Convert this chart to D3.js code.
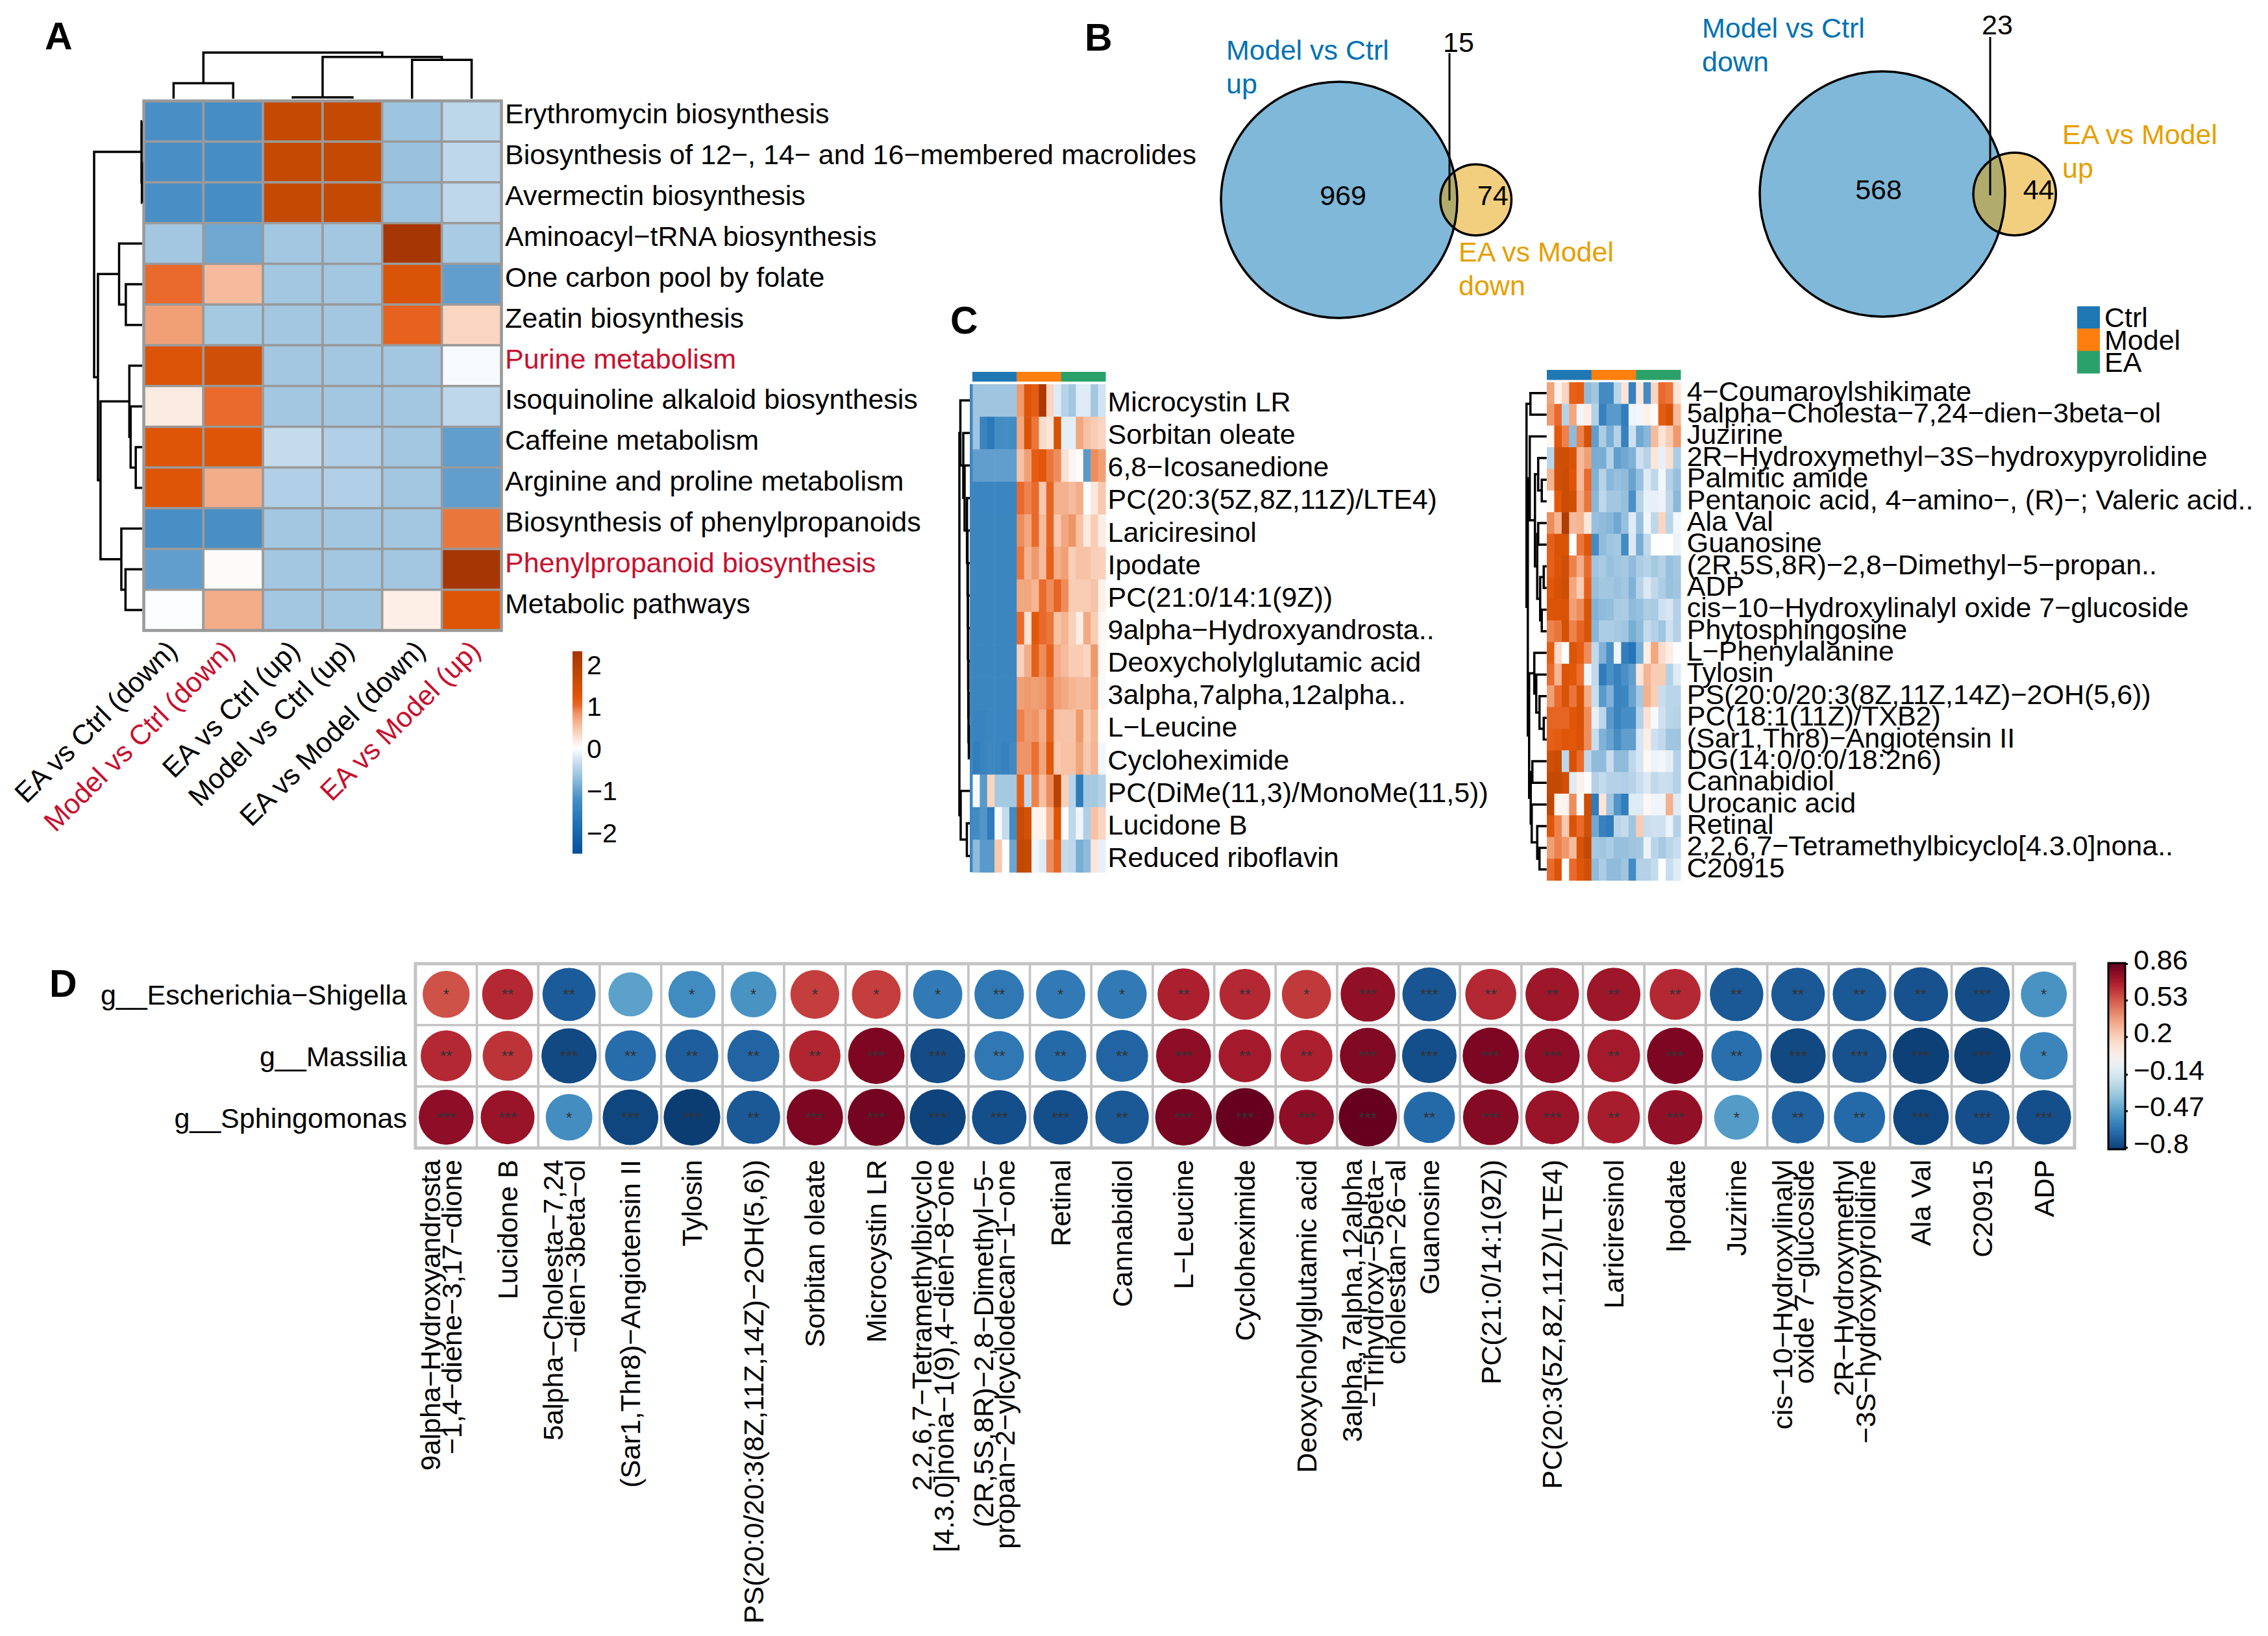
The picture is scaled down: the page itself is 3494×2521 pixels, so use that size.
<!DOCTYPE html>
<html><head><meta charset="utf-8">
<script src="https://cdn.jsdelivr.net/npm/d3@7"></script>
<style>html,body{margin:0;padding:0;background:#fff}svg{display:block}text{font-family:"Liberation Sans",Arial,sans-serif}</style>
</head><body><svg id="c" width="3494" height="2521"></svg>
<script>
// ---------- DATA ----------
const pathways=["Erythromycin biosynthesis","Biosynthesis of 12−, 14− and 16−membered macrolides","Avermectin biosynthesis","Aminoacyl−tRNA biosynthesis","One carbon pool by folate","Zeatin biosynthesis","Purine metabolism","Isoquinoline alkaloid biosynthesis","Caffeine metabolism","Arginine and proline metabolism","Biosynthesis of phenylpropanoids","Phenylpropanoid biosynthesis","Metabolic pathways"];
const redPathways=["Purine metabolism","Phenylpropanoid biosynthesis"];
const comparisons=["EA vs Ctrl (down)","Model vs Ctrl (down)","EA vs Ctrl (up)","Model vs Ctrl (up)","EA vs Model (down)","EA vs Model (up)"];
const redComparisons=["Model vs Ctrl (down)","EA vs Model (up)"];
const heatA=[
[-1.22,-1.25,1.7,1.7,-.66,-.44],
[-1.22,-1.25,1.7,1.7,-.68,-.42],
[-1.22,-1.25,1.7,1.7,-.66,-.42],
[-.62,-.95,-.62,-.62,2.3,-.58],
[1.0,.55,-.62,-.62,1.35,-1.05],
[.75,-.6,-.62,-.62,1.08,.35],
[1.3,1.5,-.62,-.62,-.62,-.05],
[.17,1.0,-.62,-.62,-.62,-.42],
[1.27,1.27,-.38,-.52,-.62,-1.05],
[1.27,.65,-.52,-.52,-.62,-1.05],
[-1.22,-1.22,-.62,-.62,-.62,.95],
[-1.05,.03,-.62,-.62,-.62,2.3],
[-.02,.65,-.62,-.62,.14,1.27]];
const topMergesA=[[0,1,24.5],[2,3,2],[4,5,61.5],[-2,-3,66],[-1,-4,73]];
const leftMergesA=[[1,2,.4],[0,-1,1],[4,5,25.5],[3,-3,36],[8,9,10],[7,-5,18],[6,-6,20],[11,12,26],[10,-8,32.5],[-7,-9,65],[-4,-10,69],[-2,-11,75]];
const colourTicksA=[-2,-1,0,1,2];
const colLabelNudge=[8,5,13,5,23,16];

const groups=["Ctrl","Model","EA"];
const groupColours=["#1f77b4","#ff7f0e","#2aa169"];
const metabolitesL=["Microcystin LR","Sorbitan oleate","6,8−Icosanedione","PC(20:3(5Z,8Z,11Z)/LTE4)","Lariciresinol","Ipodate","PC(21:0/14:1(9Z))","9alpha−Hydroxyandrosta..","Deoxycholylglutamic acid","3alpha,7alpha,12alpha..","L−Leucine","Cycloheximide","PC(DiMe(11,3)/MonoMe(11,5))","Lucidone B","Reduced riboflavin"];
const heatCL=[
[-.65,-.65,-.65,-.65,-.65,-.65,.8,1.27,1.15,2.2,.35,-.2,-.48,-.62,-.2,-.2,-.62,-.28],
[-.65,-1.45,-1.65,-1.3,-1.25,-1.3,.7,1.35,.95,.3,.22,1.4,-.17,-.17,.7,.5,.42,.35],
[-1.05,-1.05,-1.05,-1.05,-1.05,-1.05,.5,.75,1.15,1.22,.95,.85,.25,.08,.03,-1.1,.85,.75],
[-1.42,-1.42,-1.42,-1.42,-1.42,-1.42,1.0,.9,1.0,.45,1.05,.62,.62,.55,.65,-.02,.2,.45],
[-1.4,-1.4,-1.4,-1.4,-1.4,-1.4,.85,.7,1.0,.55,1.05,.45,.7,.82,.5,.18,.42,.15],
[-1.4,-1.4,-1.4,-1.4,-1.4,-1.4,.95,.6,.8,.55,1.1,.65,.75,.4,.5,.5,.4,.38],
[-1.4,-1.4,-1.4,-1.4,-1.4,-1.4,.7,.7,.6,1.0,.85,1.05,.85,.42,.42,.42,.5,.12],
[-1.4,-1.4,-1.4,-1.4,-1.4,-1.4,1.0,.25,1.2,1.0,.95,.5,.6,.38,.15,.68,.42,.07],
[-1.4,-1.4,-1.4,-1.4,-1.4,-1.4,.38,.65,1.1,.85,1.08,.65,.55,.42,.42,.35,.8,.05],
[-1.4,-1.4,-1.4,-1.4,-1.4,-1.4,.75,.8,.75,.8,.95,.75,.68,.6,.55,.55,.7,-.05],
[-1.45,-1.45,-1.4,-1.42,-1.42,-1.42,.9,.8,.82,.65,1.05,.5,.48,.48,.8,.42,.58,0],
[-1.55,-1.45,-1.38,-1.42,-1.48,-1.35,.82,.82,.98,.72,1.2,.45,.5,.5,.72,.45,.6,-.08],
[-.05,-1.1,.35,-.6,-.6,-.6,1.1,-.4,.9,.52,.85,1.95,.4,-.45,-1.6,-.6,-.6,-.5],
[-1.3,-1.15,-1.6,-.05,-.38,-1.3,1.65,1.45,.1,.1,.6,1.3,.03,-.42,-.1,-.52,.5,.35],
[-.75,-1.1,-1.1,.45,0,-.98,1.75,1.7,-.1,-.2,.85,1.05,-.38,-.42,-.9,-.75,.22,-.15]];
const mergesCL=[[10,11,1.5],[9,-1,2],[8,-2,2.3],[7,-3,2.5],[6,-4,2.8],[5,-5,3],[4,-6,3.5],[3,-7,4.3],[2,-8,8],[1,-9,10],[0,-10,14.5],[13,14,4.5],[12,-12,14],[-11,-13,16]];

const metabolitesR=["4−Coumaroylshikimate","5alpha−Cholesta−7,24−dien−3beta−ol","Juzirine","2R−Hydroxymethyl−3S−hydroxypyrolidine","Palmitic amide","Pentanoic acid, 4−amino−, (R)−; Valeric acid..","Ala Val","Guanosine","(2R,5S,8R)−2,8−Dimethyl−5−propan..","ADP","cis−10−Hydroxylinalyl oxide 7−glucoside","Phytosphingosine","L−Phenylalanine","Tylosin","PS(20:0/20:3(8Z,11Z,14Z)−2OH(5,6))","PC(18:1(11Z)/TXB2)","(Sar1,Thr8)−Angiotensin II","DG(14:0/0:0/18:2n6)","Cannabidiol","Urocanic acid","Retinal","2,2,6,7−Tetramethylbicyclo[4.3.0]nona..","C20915"];
const heatCR=[
[.72,.1,.35,1.1,1.15,-.75,-.62,-1.3,-1.3,-.45,.22,-1.5,.2,-1.3,.35,1.0,.95,.22],
[.8,1.0,-.5,.7,-.08,.15,-.5,-1.5,-1.1,-1.1,-1.55,-.1,-.08,.12,.03,1.15,1.4,.55],
[.07,1.2,.9,-.75,.9,1.45,-1.05,-.55,-.9,-.5,-1.5,-.3,-.95,-.8,.55,.22,.42,.8],
[-.45,1.5,1.55,1.35,.55,.75,-.9,-.9,-.5,-1.05,-.95,-.85,-.3,-.48,.22,-.15,.25,-.55],
[.6,1.5,1.6,1.25,.55,1.0,-.85,-.48,-.8,-.7,-.75,-1.0,-.7,-.2,-.42,-.08,-.5,-.7],
[.06,1.2,1.6,1.5,.65,.95,-.8,-.42,-.62,-.62,-.7,-1.2,-.48,-.15,-.15,-.12,-.42,-.78],
[.85,.6,2.1,.55,.6,.2,-.7,-.75,-.8,-.95,-.7,-.2,-.7,-.1,-.42,.35,-.45,-.08],
[1.1,1.35,1.35,0,.95,1.25,-1.3,-.75,-.65,-.6,-1.3,-.22,-.9,-.4,0,-.02,0,-.12],
[1.1,1.32,1.5,.9,.65,1.0,-.65,-.58,-.7,-.65,-.6,-.75,-.55,-.48,-.6,-.5,-.7,-.62],
[1.2,1.4,1.55,.7,.42,1.1,-.7,-.62,-.62,-.68,-.62,-.85,-.48,-.22,-.4,-.55,-.68,-.65],
[1.3,1.3,1.35,.75,.85,1.35,-.85,-.75,-.72,-.58,-.55,-.75,-.7,-.55,-.58,-.3,-.25,-.5],
[.9,.95,1.45,.9,1.05,1.35,-.8,-.55,-.55,-.6,-.65,-.9,-.75,-.38,-.5,-.65,-.3,-.5],
[1.15,.3,-.02,1.3,1.15,.85,-.4,-.85,-1.2,-.1,-1.55,-1.75,-.9,.15,.7,.28,.15,-.02],
[1.0,.6,1.3,1.2,.98,-.1,-.4,-1.6,-1.2,-1.5,-1.2,-1.05,.22,.6,.42,.42,-.5,-.2],
[.75,1.0,1.35,.95,1.35,.65,-.35,-1.1,-.85,-1.45,-1.4,-1.0,-.6,.62,.4,-.35,-.45,-.45],
[1.05,1.05,1.05,1.25,1.35,.85,-.15,-.42,-1.1,-1.45,-1.25,-1.25,-.5,.25,-.05,-.3,-.45,-.48],
[1.1,1.15,1.25,1.2,1.35,.85,-.35,-.85,-1.0,-1.25,-1.05,-1.05,-.25,.15,-.3,-.4,-.65,-.65],
[1.5,1.6,-.42,1.4,1.0,-.42,-.75,-.75,-.35,-.75,-.75,-.42,-.25,.06,-.12,-.08,-.15,-.5],
[1.7,1.7,1.5,-.2,.12,-.03,-.5,-.38,-.5,-.5,-.52,-.48,-.35,-.22,-.4,-.32,-.35,-.5],
[1.8,.08,.1,.85,-.05,1.5,-1.6,.22,-.65,-1.15,-1.55,-.2,-.2,.06,-.1,-.1,.62,-.2],
[1.25,.9,.45,1.35,1.0,1.5,-.95,-1.5,-1.6,-.45,-.38,-.65,.42,-.35,-.3,-.3,-.12,-.5],
[.75,.9,.8,.55,1.4,1.75,-.6,-.65,-.55,-.7,-.7,-.65,-.62,-.12,-.45,-.6,-.45,-.35],
[1.0,1.3,.02,1.0,1.25,1.5,-.75,-.55,-.75,-.75,-.65,-1.3,-.5,-.5,-.38,0,-.35,-.2]];
const mergesCR=[[0,1,25],[4,5,7.5],[3,-2,13],[8,9,4.5],[10,11,7.5],[-4,-5,10],[6,7,13],[-7,-6,14.5],[-3,-8,18],[2,-9,26],[15,16,4.5],[14,-11,11],[13,-12,16],[12,-13,19],[21,22,11],[20,-15,14.5],[19,-16,23],[17,18,22],[-18,-17,24.5],[-14,-19,27],[-10,-20,29],[-1,-21,31]];

const genera=["g__Escherichia−Shigella","g__Massilia","g__Sphingomonas"];
const compounds=[["9alpha−Hydroxyandrosta","−1,4−diene−3,17−dione"],["Lucidone B"],["5alpha−Cholesta−7,24","−dien−3beta−ol"],["(Sar1,Thr8)−Angiotensin II"],["Tylosin"],["PS(20:0/20:3(8Z,11Z,14Z)−2OH(5,6))"],["Sorbitan oleate"],["Microcystin LR"],["2,2,6,7−Tetramethylbicyclo","[4.3.0]nona−1(9),4−dien−8−one"],["(2R,5S,8R)−2,8−Dimethyl−5−","propan−2−ylcyclodecan−1−one"],["Retinal"],["Cannabidiol"],["L−Leucine"],["Cycloheximide"],["Deoxycholylglutamic acid"],["3alpha,7alpha,12alpha","−Trihydroxy−5beta−","cholestan−26−al"],["Guanosine"],["PC(21:0/14:1(9Z))"],["PC(20:3(5Z,8Z,11Z)/LTE4)"],["Lariciresinol"],["Ipodate"],["Juzirine"],["cis−10−Hydroxylinalyl","oxide 7−glucoside"],["2R−Hydroxymethyl","−3S−hydroxypyrolidine"],["Ala Val"],["C20915"],["ADP"]];
const corEscherichia=[.55,.66,-.72,-.47,-.55,-.52,.6,.6,-.61,-.62,-.61,-.61,.69,.66,.61,.76,-.74,.66,.73,.73,.66,-.73,-.73,-.73,-.75,-.77,-.52];
const corMassilia=[.66,.63,-.78,-.66,-.71,-.69,.67,.81,-.77,-.62,-.67,-.69,.77,.71,.69,.8,-.76,.81,.77,.71,.81,-.65,-.78,-.75,-.81,-.81,-.57];
const corSphingomonas=[.77,.74,-.54,-.79,-.82,-.73,.81,.83,-.8,-.76,-.76,-.73,.82,.86,.77,.86,-.67,.79,.74,.7,.76,-.49,-.7,-.67,-.79,-.76,-.76];
const starsEscherichia=["*","**","**","","*","*","*","*","*","**","*","*","**","**","*","***","***","**","**","**","**","**","**","**","**","***","*"];
const starsMassilia=["**","**","***","**","**","**","**","***","***","**","**","**","***","**","**","***","***","***","***","**","***","**","***","***","***","***","*"];
const starsSphingomonas=["***","***","*","***","***","**","***","***","***","***","***","**","***","***","***","***","**","***","***","**","***","*","**","**","***","***","***"];
const colourTicksD=[.86,.53,.2,-.14,-.47,-.8];

const vennUp={big:969,small:74,shared:15,names:["Model vs Ctrl","up","EA vs Model","down"]};
const vennDown={big:568,small:44,shared:23,names:["Model vs Ctrl","down","EA vs Model","up"]};

// ---------- HELPERS ----------
const svg=d3.select("#c");
svg.append("rect").attr("width",3494).attr("height",2521).attr("fill","#fff");
const FS=43, RED="#c8102e";
const heatColour=d3.scaleLinear()
 .domain([-2.5,-1.8,-1.2,-.65,-.3,0,.4,.8,1.0,1.2,1.7,2.3])
 .range(["#08519c","#2171b5","#4a90c6","#9fc5e0","#cfe1f0","#ffffff","#f9cfb8","#f0996c","#e96a2c","#e25709","#c44a04","#a63603"]);

function dendro(g,merges,leaf,height,orient,sw){
  const nodes=[], at=r=>r>=0?{p:leaf(r),h:0}:nodes[-r-1];
  const line=d3.line().x(d=>orient==="top"?d[0]:height(d[1])).y(d=>orient==="top"?height(d[1]):d[0]);
  merges.forEach(([a,b,h])=>{
    const A=at(a),B=at(b);
    nodes.push({p:(A.p+B.p)/2,h});
    g.append("path").attr("fill","none").attr("stroke","#000").attr("stroke-width",sw)
     .attr("d",line([[A.p,A.h],[A.p,h],[B.p,h],[B.p,B.h]]));
  });
}
function rowLabels(g,scale,x,dy,colourOf){
  const ax=g.append("g").attr("transform",`translate(${x},0)`)
   .call(d3.axisRight(scale).tickSize(0).tickPadding(0));
  ax.select(".domain").remove();
  ax.selectAll("text").attr("font-size",FS).attr("font-family",null).attr("dy",null)
    .attr("y",dy).attr("fill",d=>colourOf?colourOf(d):"#000");
}
function heat(g,matrix,x,y,stroke){
  matrix.forEach((row,i)=>g.append("g").selectAll("rect").data(row).join("rect")
    .attr("x",(d,j)=>x(j)).attr("y",y(i)).attr("width",x.bandwidth()+(stroke?0:.6)).attr("height",y.bandwidth()+(stroke?0:.6))
    .attr("fill",d=>heatColour(d)).attr("stroke",stroke||"none").attr("stroke-width",stroke?3.5:0));
}
function letter(t,x,y){svg.append("text").text(t).attr("x",x).attr("y",y).attr("font-size",59).attr("font-weight","bold");}
letter("A",69,76);letter("B",1671,78);letter("C",1464,514);letter("D",76,1536);

// ---------- PANEL A ----------
const gA=svg.append("g");
const xA=d3.scaleBand().domain(d3.range(6)).range([221.5,772.5]);
const yA=d3.scaleBand().domain(d3.range(13)).range([155.5,971.5]);
heat(gA,heatA,xA,yA,"#9a9a9a");
gA.append("rect").attr("x",221.5).attr("y",155.5).attr("width",551).attr("height",816).attr("fill","none").attr("stroke","#9a9a9a").attr("stroke-width",4.5);
dendro(gA,topMergesA,i=>xA(i)+xA.bandwidth()/2,d3.scaleLinear().domain([0,73]).range([152,81]),"top",3.5);
dendro(gA,leftMergesA,i=>yA(i)+yA.bandwidth()/2,d3.scaleLinear().domain([0,75]).range([219,145]),"left",3.5);
const yALab=d3.scaleBand().domain(pathways).range([155,972]);
rowLabels(gA,yALab,778,4,d=>redPathways.includes(d)?RED:"#000");
comparisons.forEach((c,i)=>gA.append("text").text(c)
  .attr("transform",`translate(${xA(i)+xA.bandwidth()/2+colLabelNudge[i]},1005) rotate(-45)`)
  .attr("text-anchor","end").attr("font-size",FS).attr("fill",redComparisons.includes(c)?RED:"#000"));
// colour key A
const keyA=d3.scaleLinear().domain([-2,2]).range([1282,1023]);
const keyVals=d3.range(keyA.invert(1315),keyA.invert(1005),.02);
gA.append("g").selectAll("rect").data(keyVals).join("rect")
  .attr("x",882).attr("width",15).attr("y",d=>keyA(d)-2).attr("height",2.5).attr("fill",d=>heatColour(d));
const axA=gA.append("g").attr("transform","translate(904,0)")
  .call(d3.axisRight(keyA).tickValues(colourTicksA).tickSize(0).tickPadding(0).tickFormat(d=>String(d).replace("-","−")));
axA.select(".domain").remove();
axA.selectAll("text").attr("font-size",41).attr("font-family",null).attr("dy",null).attr("y",15).attr("fill","#000");

// ---------- PANEL B ----------
function venn(v,o){
  const g=svg.append("g");
  const rBig=d3.scaleSqrt().domain([0,v.big+v.shared]).range([0,o.rBig]);
  const r1=rBig(v.big+v.shared), r2=rBig(v.small+v.shared);
  const cx2=o.cx+r1+r2-o.overlap;
  [[o.cx,r1,"#0072B2"],[cx2,r2,"#E69F00"]].forEach(([cx,r,f])=>{
    g.append("circle").attr("cx",cx).attr("cy",o.cy).attr("r",r).attr("fill",f).attr("fill-opacity",.5);
  });
  [[o.cx,r1],[cx2,r2]].forEach(([cx,r])=>g.append("circle").attr("cx",cx).attr("cy",o.cy).attr("r",r).attr("fill","none").attr("stroke","#000").attr("stroke-width",3.5));
  const t=(s,x,y,fill,anchor)=>g.append("text").text(s).attr("x",x).attr("y",y).attr("fill",fill||"#000").attr("font-size",FS).attr("text-anchor",anchor||"middle");
  t(v.big,o.cx+o.bigTx,o.numY);t(v.small,cx2+o.smallTx,o.numY);
  g.append("line").attr("x1",o.lineX).attr("x2",o.lineX).attr("y1",o.lineTop).attr("y2",o.lineBot).attr("stroke","#000").attr("stroke-width",3);
  t(v.shared,o.sharedX,o.sharedY);
  t(v.names[0],o.n1x,o.n1y,"#0072B2","start");t(v.names[1],o.n1x,o.n1y+52,"#0072B2","start");
  t(v.names[2],o.n2x,o.n2y,"#E69F00","start");t(v.names[3],o.n2x,o.n2y+52,"#E69F00","start");
}
venn(vennUp,{cx:2063,cy:308,rBig:182,overlap:26,bigTx:6,smallTx:26,numY:316,lineX:2233,lineTop:82,lineBot:309,sharedX:2247,sharedY:80,n1x:1889,n1y:92,n2x:2247,n2y:403});
venn(vennDown,{cx:2900,cy:299,rBig:189,overlap:49,bigTx:-6,smallTx:37,numY:307,lineX:3066,lineTop:57,lineBot:301,sharedX:3077,sharedY:53,n1x:2622,n1y:58,n2x:3177,n2y:222});
// group legend
const legY=d3.scaleBand().domain(groups).range([472,575]);
svg.append("g").selectAll("rect").data(groups).join("rect").attr("x",3200).attr("width",35)
  .attr("y",d=>legY(d)).attr("height",legY.bandwidth()+.5).attr("fill",(d,i)=>groupColours[i]);
rowLabels(svg,legY,3242,15);

// ---------- PANEL C ----------
function panelC(matrix,names,o){
  const g=svg.append("g");
  const x=d3.scaleBand().domain(d3.range(18)).range([o.x0,o.x1]);
  const y=d3.scaleBand().domain(d3.range(names.length)).range([o.y0,o.y1]);
  const xg=d3.scaleBand().domain(groups).range([o.x0,o.x1]);
  g.append("g").selectAll("rect").data(groups).join("rect").attr("x",d=>xg(d)).attr("width",xg.bandwidth()+.5)
    .attr("y",o.annTop).attr("height",o.annH).attr("fill",(d,i)=>groupColours[i]);
  heat(g,matrix,x,y,null);
  if(o.strip) g.append("rect").attr("x",o.x0-4).attr("width",4.5).attr("y",o.y0).attr("height",o.y1-o.y0).attr("fill",o.strip);
  dendro(g,o.merges,i=>y(i)+y.bandwidth()/2,d3.scaleLinear().domain([0,o.hMax]).range([o.edge,o.edge-o.hMax]),"left",3.5);
  const yL=d3.scaleBand().domain(names).range([o.y0,o.y1]);
  rowLabels(g,yL,o.labX,o.labDy);
}
panelC(heatCL,metabolitesL,{x0:1498,x1:1703,y0:592,y1:1344,annTop:573,annH:15,merges:mergesCL,hMax:16,edge:1494,labX:1706.5,labDy:17,strip:"#3d88c4"});
panelC(heatCR,metabolitesR,{x0:2383,x1:2589,y0:589,y1:1356.5,annTop:570,annH:15.5,merges:mergesCR,hMax:31,edge:2382.7,labX:2598.7,labDy:12});

// ---------- PANEL D ----------
const gD=svg.append("g");
const xD=d3.scaleBand().domain(d3.range(compounds.length)).range([640,3196]);
const yD=d3.scaleBand().domain(genera).range([1485,1769]);
const rD=d3.scaleLinear().domain([.47,.86]).range([34,44.8]);
const corColour=v=>d3.interpolateRdBu(.5-v/1.72);
const cors=[corEscherichia,corMassilia,corSphingomonas], stars=[starsEscherichia,starsMassilia,starsSphingomonas];
genera.forEach((gn,i)=>{
  gD.append("g").selectAll("rect").data(cors[i]).join("rect").attr("x",(d,j)=>xD(j)).attr("y",yD(gn)).attr("width",xD.bandwidth()).attr("height",yD.bandwidth())
    .attr("fill","#fff").attr("stroke","#c4c4c4").attr("stroke-width",3.5);
});
gD.append("rect").attr("x",640).attr("y",1485).attr("width",2556).attr("height",284).attr("fill","none").attr("stroke","#c4c4c4").attr("stroke-width",5);
genera.forEach((gn,i)=>{
  const cy=yD(gn)+yD.bandwidth()/2;
  gD.append("g").selectAll("circle").data(cors[i]).join("circle").attr("cx",(d,j)=>xD(j)+xD.bandwidth()/2).attr("cy",cy)
    .attr("r",d=>rD(Math.abs(d))).attr("fill",corColour);
  gD.append("g").selectAll("text").data(stars[i]).join("text").text(d=>d).attr("x",(d,j)=>xD(j)+xD.bandwidth()/2).attr("y",cy+9)
    .attr("text-anchor","middle").attr("font-size",24).attr("fill","#333");
  gD.append("text").text(gn).attr("x",627).attr("y",cy+16).attr("text-anchor","end").attr("font-size",FS);
});
compounds.forEach((lines,j)=>{
  const c=xD(j)+xD.bandwidth()/2;
  lines.forEach((s,k)=>{
    const base=lines.length===1?c+15:c-9.5+k*33.5;
    gD.append("text").text(s).attr("transform",`translate(${base},1787) rotate(-90)`).attr("text-anchor","end").attr("font-size",FS);
  });
});
// colour bar D
const keyD=d3.scaleLinear().domain([-.8,.86]).range([1768,1485]);
const keyDVals=d3.range(keyD.invert(1771),keyD.invert(1484),.005);
gD.append("g").selectAll("rect").data(keyDVals).join("rect").attr("x",3248).attr("width",26)
  .attr("y",d=>keyD(d)-1).attr("height",1.6).attr("fill",d=>corColour(Math.max(-.86,Math.min(.86,d))));
gD.append("rect").attr("x",3248).attr("y",1484).attr("width",26).attr("height",287).attr("fill","none").attr("stroke","#000").attr("stroke-width",3);
const axD=gD.append("g").attr("transform","translate(3274,0)")
  .call(d3.axisRight(keyD).tickValues(colourTicksD).tickSize(4).tickPadding(9).tickFormat(d=>String(d).replace("-","−")));
axD.select(".domain").remove();
axD.selectAll("line").attr("stroke","#000").attr("stroke-width",3);
axD.selectAll("text").attr("font-size",FS).attr("font-family",null).attr("dy",null).attr("y",8).attr("fill","#000");
</script></body></html>
